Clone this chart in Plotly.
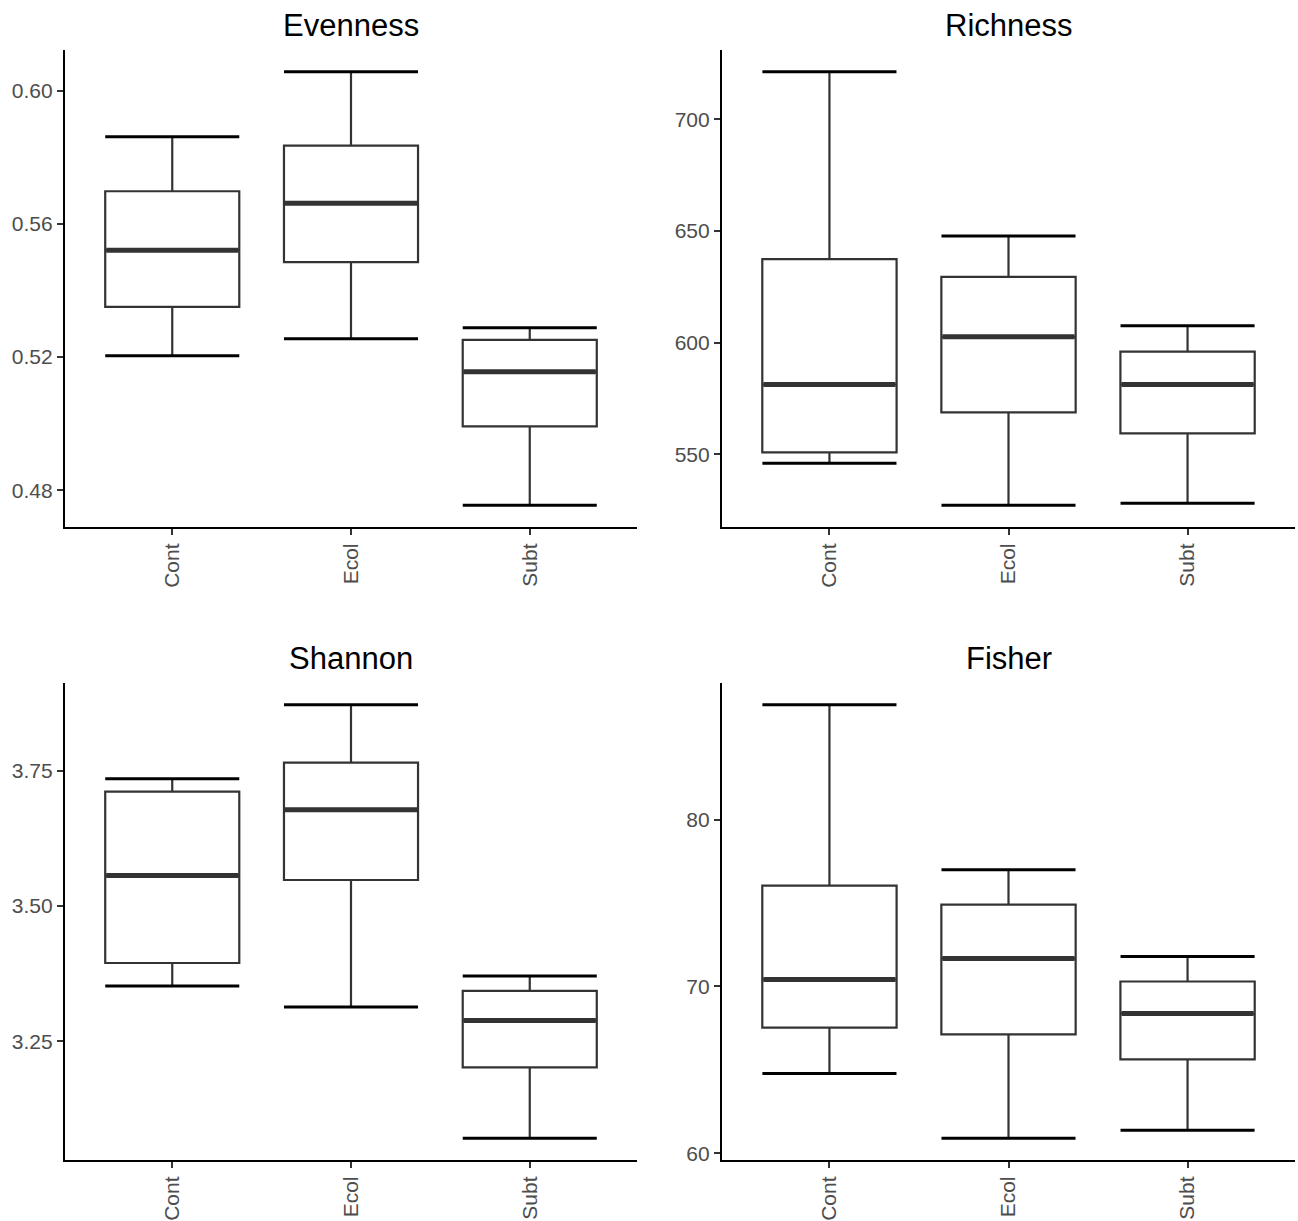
import plotly.graph_objects as go

categories = ["Cont", "Ecol", "Subt"]

# Evenness
even_low = [0.5204, 0.5255, 0.4755]
even_q1 = [0.5351, 0.5485, 0.4992]
even_med = [0.5521, 0.5662, 0.5156]
even_q3 = [0.5698, 0.5835, 0.5252]
even_high = [0.5862, 0.6057, 0.5288]
even_ticks = [0.48, 0.52, 0.56, 0.60]

# Richness
rich_low = [546.0, 527.2, 528.1]
rich_q1 = [550.9, 568.8, 559.4]
rich_med = [581.3, 602.7, 581.3]
rich_q3 = [637.5, 629.5, 596.0]
rich_high = [721.4, 647.8, 607.6]
rich_ticks = [550, 600, 650, 700]

# Shannon
shan_low = [3.3524, 3.3137, 3.0710]
shan_q1 = [3.3948, 3.5480, 3.2020]
shan_med = [3.5563, 3.6780, 3.2888]
shan_q3 = [3.7113, 3.7648, 3.3432]
shan_high = [3.7352, 3.8718, 3.3708]
shan_ticks = [3.25, 3.50, 3.75]

# Fisher
fish_low = [64.79, 60.90, 61.38]
fish_q1 = [67.54, 67.13, 65.63]
fish_med = [70.42, 71.68, 68.38]
fish_q3 = [76.05, 74.91, 70.30]
fish_high = [86.89, 77.00, 71.80]
fish_ticks = [60, 70, 80]

panels = [
    ("Evenness", even_low, even_q1, even_med, even_q3, even_high, even_ticks, ".2f"),
    ("Richness", rich_low, rich_q1, rich_med, rich_q3, rich_high, rich_ticks, "d"),
    ("Shannon", shan_low, shan_q1, shan_med, shan_q3, shan_high, shan_ticks, ".2f"),
    ("Fisher", fish_low, fish_q1, fish_med, fish_q3, fish_high, fish_ticks, "d"),
]

W, H = 1298, 1221
xdoms = [[65 / W, 637 / W], [722 / W, 1295 / W]]
ydoms = [[1 - 527 / H, 1 - 50 / H], [1 - 1160 / H, 1 - 683 / H]]

FONT = "Liberation Sans, Arial, Helvetica, sans-serif"
BOXW = 0.75
px_per_unit = (637 - 65) / 3.2
half_px = BOXW / 2 * px_per_unit

fig = go.Figure()
layout = dict(
    width=W, height=H,
    margin=dict(l=0, r=0, t=0, b=0, autoexpand=False),
    paper_bgcolor="white", plot_bgcolor="white",
    showlegend=False,
    font=dict(family=FONT),
)
annotations = []
xpos = list(range(len(categories)))

for k, (name, lo, q1, med, q3, hi, ticks, fmt) in enumerate(panels):
    r, c = divmod(k, 2)
    ax = "" if k == 0 else str(k + 1)
    xa, ya = "x" + ax, "y" + ax
    fig.add_trace(go.Box(
        x=xpos, q1=q1, median=med, q3=q3, lowerfence=lo, upperfence=hi,
        width=BOXW, whiskerwidth=0, fillcolor="white",
        line=dict(color="#333333", width=2.2),
        xaxis=xa, yaxis=ya, hoverinfo="skip", boxpoints=False,
    ))
    # whisker caps (errorbar style)
    for vals in (hi, lo):
        fig.add_trace(go.Scatter(
            x=xpos, y=vals, mode="markers",
            marker=dict(size=1, opacity=0),
            error_y=dict(type="data", array=[0] * 3, width=half_px,
                         thickness=3, color="black"),
            xaxis=xa, yaxis=ya, hoverinfo="skip",
        ))
    # thick median line
    fig.add_trace(go.Scatter(
        x=xpos, y=med, mode="markers",
        marker=dict(size=1, opacity=0),
        error_y=dict(type="data", array=[0] * 3, width=half_px - 1,
                     thickness=5, color="#333333"),
        xaxis=xa, yaxis=ya, hoverinfo="skip",
    ))
    span_lo = min(lo)
    span_hi = max(hi)
    pad = (span_hi - span_lo) * 0.05
    layout["xaxis" + ax] = dict(
        domain=xdoms[c], anchor=ya, range=[-0.6, 2.6], automargin=False,
        tickmode="array", tickvals=xpos, ticktext=categories,
        tickangle=-90, showline=True, linecolor="black", linewidth=2.2,
        ticks="outside", ticklen=6, tickwidth=2, tickcolor="#333333",
        tickfont=dict(size=21, color="#4d4d4d", family=FONT),
        showgrid=False, zeroline=False, fixedrange=True,
    )
    layout["yaxis" + ax] = dict(
        domain=ydoms[r], anchor=xa, range=[span_lo - pad, span_hi + pad],
        automargin=False,
        tickmode="array", tickvals=ticks, tickformat=fmt,
        showline=True, linecolor="black", linewidth=2.2,
        ticks="outside", ticklen=6, tickwidth=2, tickcolor="#333333",
        tickfont=dict(size=21, color="#4d4d4d", family=FONT),
        showgrid=False, zeroline=False, fixedrange=True,
    )
    annotations.append(dict(
        text=name, xref="paper", yref="paper",
        x=sum(xdoms[c]) / 2, y=ydoms[r][1] + 25 / H,
        xanchor="center", yanchor="middle", showarrow=False,
        font=dict(size=31, color="black", family=FONT),
    ))

layout["annotations"] = annotations
fig.update_layout(**layout)
fig.write_html(
    "out.html",
    config={"displayModeBar": False},
    post_script="document.body.style.margin='0';document.body.style.overflow='hidden';",
)
